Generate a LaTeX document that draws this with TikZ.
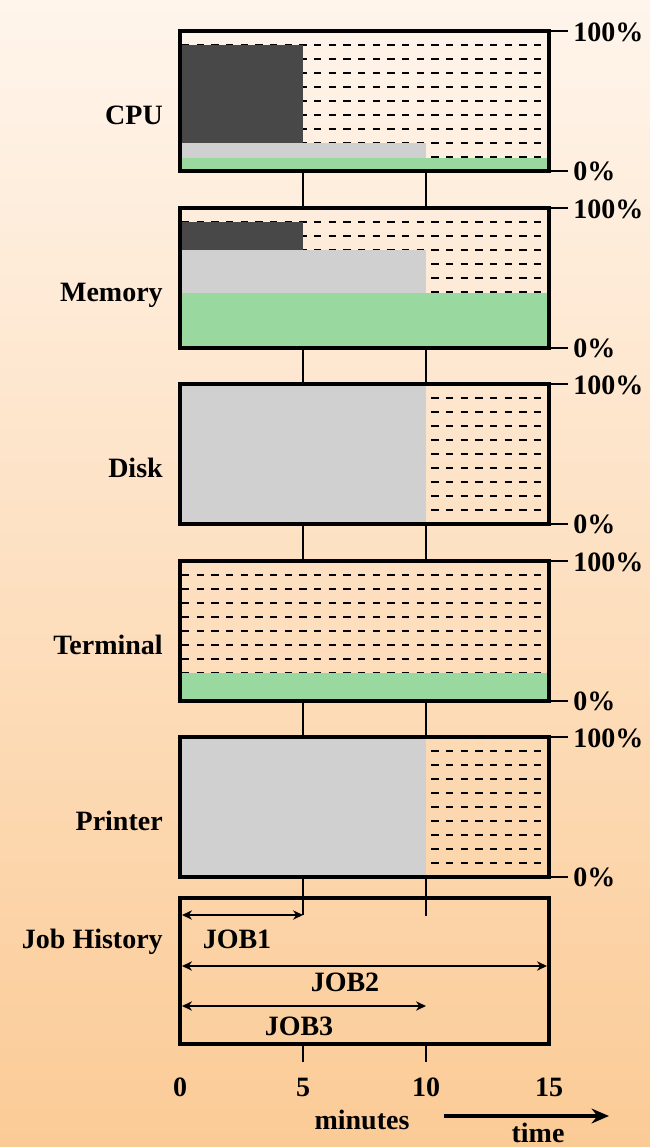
\documentclass[tikz,border=0pt]{standalone}
\usepackage{fontspec}
\setmainfont{Liberation Serif}
\usetikzlibrary{arrows.meta,positioning}

\begin{document}
\begin{tikzpicture}[x=0.75pt,y=-0.75pt,
  panel/.style={line width=3pt},
  rowdash/.style={line width=1.9pt,dash pattern=on 5.5pt off 5.5pt},
  link/.style={line width=1.8pt},
  lbl/.style={font=\bfseries\fontsize{21}{24}\selectfont,inner sep=0pt},
  jobarrow/.style={line width=1.4pt,{Stealth[length=7.5pt,width=7pt]}-{Stealth[length=7.5pt,width=7pt]}}]
%
\definecolor{bgtop}{RGB}{255,245,236}
\definecolor{bgbot}{RGB}{251,203,150}
\definecolor{cdark}{RGB}{72,72,72}
\definecolor{clight}{RGB}{208,208,208}
\definecolor{cgreen}{RGB}{153,217,159}
%
\shade[top color=bgtop,bottom color=bgbot] (0,0) rectangle (650,1147);
\useasboundingbox (0,0) rectangle (650,1147);
%
% time axis
\coordinate (m0) at (180,0);
\coordinate (m5) at (303,0);
\coordinate (m10) at (426,0);
\coordinate (m15) at (549,0);
%
% panels, 140 high
\foreach \n/\t in {cpu/31,mem/208,disk/384,term/561,prn/737}{
  \coordinate (\n-nw) at (180,\t);
  \coordinate (\n-se) at (549,\t+140);
  \foreach \k in {1,...,9}
    \draw[rowdash] (182,\t+14*\k) -- (547,\t+14*\k);
}
\coordinate (hist-nw) at (180,898);
\coordinate (hist-se) at (549,1044);
%
% CPU
\fill[cdark] (180,45) rectangle (303,143);
\fill[clight] (180,143) rectangle (426,158);
\fill[cgreen] (180,158) rectangle (549,171);
% Memory
\fill[cdark] (180,222) rectangle (303,250);
\fill[clight] (180,250) rectangle (426,293);
\fill[cgreen] (180,293) rectangle (549,348);
% Disk
\fill[clight] (180,384) rectangle (426,524);
% Terminal
\fill[cgreen] (180,673) rectangle (549,701);
% Printer
\fill[clight] (180,737) rectangle (426,877);
%
% links between panels
\foreach \a/\b in {cpu/mem,mem/disk,disk/term,term/prn}{
  \draw[link] (\a-se -| m5) -- (\b-nw -| m5);
  \draw[link] (\a-se -| m10) -- (\b-nw -| m10);
}
\coordinate (job1a) at (182,915);
\coordinate (job1b) at (303,915);
\coordinate (job2a) at (182,966);
\coordinate (job2b) at (547,966);
\coordinate (job3a) at (182,1006);
\coordinate (job3b) at (426,1006);
\draw[link] (prn-se -| m5) -- (job1b);
\draw[link] (prn-se -| m10) -- (426,916);
\draw[link] (hist-se -| m5) -- ++(0,18);
\draw[link] (hist-se -| m10) -- ++(0,18);
%
% frames, ticks, labels
\foreach \n/\t/\name in {cpu/31/CPU,mem/208/Memory,disk/384/Disk,term/561/Terminal,prn/737/Printer}{
  \draw[panel] (\n-nw) rectangle (\n-se);
  \draw[link] (551,\t) -- ++(17,0);
  \draw[link] (\n-se) ++(2,0) -- ++(17,0);
  \node[lbl,anchor=base west] (\n-top) at (573,\t+10) {100\%};
  \node[lbl,anchor=base west] (\n-bot) at (573,\t+149) {0\%};
  \node[lbl,anchor=base east] (\n-name) at (163,\t+93) {\name};
}
\draw[panel] (hist-nw) rectangle (hist-se);
\node[lbl,anchor=base east] (hist-name) at (163,948) {Job History};
%
% jobs
\draw[jobarrow] (job1a) -- (job1b);
\draw[jobarrow] (job2a) -- (job2b);
\draw[jobarrow] (job3a) -- (job3b);
\node[lbl,anchor=base] (job1) at (237,948) {JOB1};
\node[lbl,anchor=base] (job2) at (345,991) {JOB2};
\node[lbl,anchor=base] (job3) at (299,1035) {JOB3};
%
% axis
\foreach \c/\v in {m0/0,m5/5,m10/10,m15/15}
  \node[lbl,anchor=base] (lab\c) at ([yshift=-1096*0.75pt]\c) {\v};
\node[lbl,anchor=base] (minutes) at (362,1129) {minutes};
\coordinate (timea) at (444,1116);
\coordinate (timeb) at (609,1116);
\draw[line width=2.4pt,-{Stealth[length=13pt,width=11pt]}] (timea) -- (timeb);
\node[lbl,anchor=base] (time) at (538,1142) {time};
%
\end{tikzpicture}
\end{document}
